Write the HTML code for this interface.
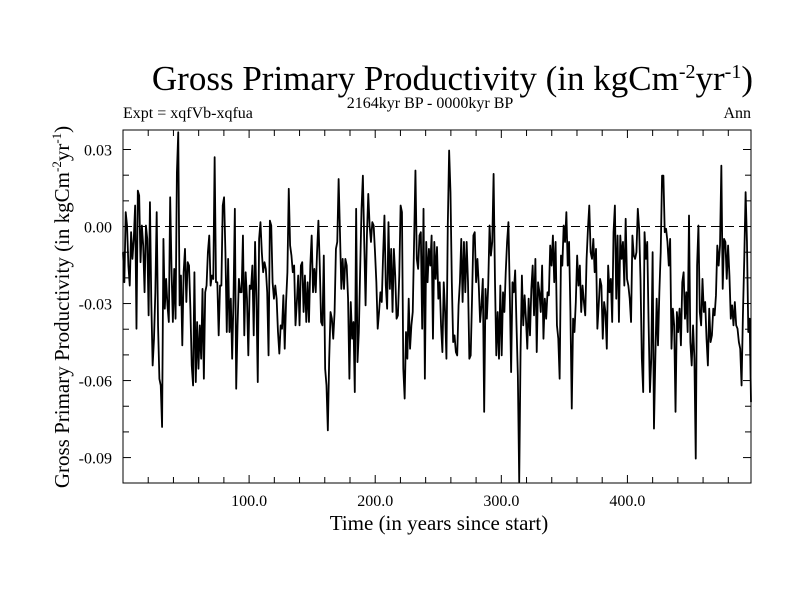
<!DOCTYPE html>
<html><head><meta charset="utf-8"><style>
html,body{margin:0;padding:0;background:#fff}
svg{display:block}
text{font-family:"Liberation Serif",serif;fill:#000}
</style></head><body>
<svg id="chart" width="800" height="600">
<text x="753" y="90" font-size="35" text-anchor="end">Gross Primary Productivity (in kgCm<tspan dy="-12" font-size="20">-2</tspan><tspan dy="12">yr</tspan><tspan dy="-12" font-size="20">-1</tspan><tspan dy="12">)</tspan></text>
<text x="430" y="108" font-size="16" text-anchor="middle">2164kyr BP - 0000kyr BP</text>
<text x="123" y="118" font-size="16">Expt = xqfVb-xqfua</text>
<text x="751" y="118" font-size="16" text-anchor="end">Ann</text>
<text transform="translate(69,307) rotate(-90)" font-size="21" text-anchor="middle">Gross Primary Productivity (in kgCm<tspan dy="-8" font-size="13">-2</tspan><tspan dy="8">yr</tspan><tspan dy="-8" font-size="13">-1</tspan><tspan dy="8">)</tspan></text>
<text x="439" y="530" font-size="21" text-anchor="middle">Time (in years since start)</text>
<g id="plot"></g>
</svg>
<script>
const yTicks = [0.03, 0.00, -0.03, -0.06, -0.09];
const yTickLabels = ["0.03", "0.00", "-0.03", "-0.06", "-0.09"];
const xTicks = [100, 200, 300, 400];
const xTickLabels = ["100.0", "200.0", "300.0", "400.0"];
const xDomain = [0, 498];
const yDomain = [-0.0999, 0.0376];
const gpp = [-0.0100,-0.0217,0.0056,0.0004,-0.0152,-0.0230,-0.0022,-0.0126,-0.0048,0.0082,-0.0398,0.0140,0.0121,-0.0139,0.0004,-0.0074,-0.0256,0.0004,-0.0048,-0.0346,0.0095,-0.0294,-0.0541,-0.0437,-0.0256,0.0056,-0.0385,-0.0593,-0.0619,-0.0781,-0.0048,-0.0320,-0.0204,-0.0307,-0.0372,0.0114,-0.0165,-0.0372,-0.0165,-0.0359,0.0211,0.0367,-0.0307,-0.0191,-0.0463,-0.0178,-0.0087,-0.0294,-0.0139,-0.0152,-0.0320,-0.0541,-0.0619,-0.0178,-0.0606,-0.0372,-0.0554,-0.0385,-0.0515,-0.0243,-0.0593,-0.0256,-0.0230,-0.0100,-0.0035,-0.0230,-0.0191,-0.0204,0.0270,-0.0217,-0.0217,-0.0424,-0.0230,-0.0230,0.0082,0.0114,-0.0100,-0.0411,-0.0126,-0.0411,-0.0281,-0.0515,-0.0281,0.0069,-0.0632,-0.0385,-0.0204,-0.0256,-0.0256,-0.0035,-0.0424,-0.0178,-0.0281,-0.0502,-0.0230,-0.0243,-0.0152,-0.0424,-0.0060,-0.0281,-0.0606,-0.0048,0.0017,-0.0100,-0.0178,-0.0139,-0.0165,-0.0256,-0.0502,0.0023,0.0004,
-0.0217,-0.0281,-0.0230,-0.0281,-0.0411,-0.0495,-0.0385,-0.0398,-0.0268,-0.0476,-0.0294,-0.0178,0.0147,-0.0074,-0.0113,-0.0178,-0.0152,-0.0385,-0.0294,-0.0191,-0.0385,-0.0152,-0.0139,-0.0333,-0.0191,-0.0372,-0.0217,-0.0372,-0.0152,-0.0035,-0.0256,-0.0165,-0.0256,-0.0100,0.0023,-0.0152,-0.0372,-0.0385,-0.0113,-0.0554,-0.0619,-0.0794,-0.0515,-0.0333,-0.0359,-0.0437,-0.0333,-0.0087,-0.0060,0.0185,-0.0022,-0.0243,-0.0126,-0.0243,-0.0126,-0.0152,-0.0281,-0.0593,-0.0294,-0.0437,-0.0372,-0.0645,0.0069,-0.0528,-0.0411,-0.0165,0.0069,0.0198,-0.0060,-0.0307,-0.0035,0.0127,0.0004,-0.0060,0.0017,0.0004,-0.0100,-0.0217,-0.0398,-0.0333,-0.0256,-0.0294,-0.0113,0.0043,-0.0230,-0.0320,0.0017,-0.0243,-0.0087,-0.0333,-0.0087,-0.0191,-0.0359,-0.0346,-0.0191,0.0082,0.0056,-0.0554,-0.0670,-0.0411,-0.0515,-0.0281,-0.0476,-0.0385,-0.0333,-0.0060,0.0218,-0.0126,-0.0165,-0.0035,-0.0022,-0.0398,0.0069,-0.0593,-0.0060,-0.0217,-0.0087,-0.0152,-0.0035,-0.0437,-0.0060,
-0.0204,-0.0080,-0.0281,-0.0217,-0.0385,-0.0489,-0.0217,-0.0333,-0.0515,0.0004,0.0296,0.0134,-0.0217,-0.0450,-0.0424,-0.0489,-0.0502,-0.0307,-0.0217,-0.0048,-0.0294,-0.0060,-0.0256,-0.0060,-0.0217,-0.0515,-0.0502,-0.0281,-0.0035,-0.0022,-0.0217,-0.0126,-0.0230,-0.0372,-0.0307,-0.0204,-0.0722,-0.0243,-0.0359,-0.0230,0.0004,-0.0113,-0.0060,0.0205,-0.0204,-0.0502,-0.0333,-0.0515,-0.0230,-0.0502,-0.0256,-0.0333,-0.0178,-0.0060,0.0017,-0.0256,-0.0567,-0.0217,-0.0256,-0.0171,-0.0385,-0.0580,-0.0995,-0.0489,-0.0191,-0.0385,-0.0268,-0.0359,-0.0476,-0.0281,-0.0424,-0.0243,-0.0152,-0.0346,-0.0126,-0.0489,-0.0217,-0.0256,-0.0333,-0.0152,-0.0437,-0.0281,-0.0359,-0.0256,-0.0268,-0.0074,-0.0152,-0.0035,-0.0217,-0.0060,-0.0385,-0.0437,-0.0593,-0.0113,-0.0152,0.0004,-0.0060,0.0056,-0.0152,-0.0060,-0.0333,-0.0709,-0.0359,-0.0411,-0.0294,-0.0113,-0.0230,-0.0152,-0.0333,-0.0230,-0.0294,-0.0346,-0.0126,-0.0009,0.0082,-0.0100,-0.0126,-0.0048,-0.0178,-0.0087,-0.0398,
-0.0307,-0.0204,-0.0230,-0.0437,-0.0294,-0.0333,-0.0476,-0.0152,-0.0256,-0.0204,-0.0372,-0.0022,0.0082,-0.0281,-0.0035,-0.0372,-0.0035,-0.0126,-0.0060,-0.0230,0.0030,-0.0204,-0.0230,-0.0281,-0.0372,-0.0035,-0.0113,-0.0126,-0.0100,0.0069,-0.0009,-0.0204,-0.0515,-0.0645,-0.0022,-0.0126,-0.0060,-0.0372,-0.0645,-0.0515,-0.0100,-0.0787,-0.0515,-0.0281,-0.0463,-0.0256,-0.0100,0.0198,0.0198,-0.0022,-0.0009,-0.0060,-0.0152,-0.0048,-0.0476,-0.0320,-0.0385,-0.0722,-0.0333,-0.0411,-0.0320,-0.0463,-0.0217,-0.0178,-0.0359,-0.0256,-0.0411,0.0043,-0.0450,-0.0541,-0.0385,-0.0515,-0.0904,-0.0152,0.0004,-0.0333,-0.0385,-0.0204,-0.0333,-0.0294,-0.0437,-0.0541,-0.0320,-0.0450,-0.0424,-0.0320,-0.0346,-0.0268,-0.0074,-0.0152,-0.0074,0.0237,-0.0243,-0.0048,-0.0060,-0.0204,-0.0074,-0.0191,-0.0359,-0.0307,-0.0385,-0.0294,-0.0385,-0.0398,-0.0450,-0.0476,-0.0619,-0.0346,-0.0126,0.0134,-0.0060,-0.0411,-0.0359,-0.0684];

const L = 123, R = 751, T = 130, B = 483;
const NS = 'http://www.w3.org/2000/svg';
const g = document.getElementById('plot');
function xs(v){ return L + (v - xDomain[0]) / (xDomain[1] - xDomain[0]) * (R - L); }
function ys(v){ return B - (v - yDomain[0]) / (yDomain[1] - yDomain[0]) * (B - T); }
function mk(tag, attrs){ const e = document.createElementNS(NS, tag); for (const k in attrs) e.setAttribute(k, attrs[k]); g.appendChild(e); return e; }

const z = mk('line', {x1:L, x2:R, y1:ys(0), y2:ys(0), stroke:'#000', 'stroke-width':1, 'stroke-dasharray':'9,5'});



const n = gpp.length;
let d = '';
gpp.forEach((v, i) => {
  const yr = xDomain[0] + i * (xDomain[1] - xDomain[0]) / (n - 1);
  d += (i ? 'L' : 'M') + xs(yr).toFixed(2) + ',' + ys(v).toFixed(2);
});
const line = mk('path', {d:d, fill:'none', stroke:'#000', 'stroke-width':1.8, 'stroke-linejoin':'round'});



const fr = mk('rect', {x:L, y:T, width:R-L, height:B-T, fill:'none', stroke:'#000', 'stroke-width':1});



for (let t = 20; t < xDomain[1]; t += 20) {
  const len = (t % 100 === 0) ? 8 : 6;
  const a = mk('line', {x1:xs(t), x2:xs(t), y1:B, y2:B-len, stroke:'#000', 'stroke-width':1});
  
  
  const b = mk('line', {x1:xs(t), x2:xs(t), y1:T, y2:T+len, stroke:'#000', 'stroke-width':1});
  
  
}
xTicks.forEach((t, i) => {
  const e = mk('text', {x:xs(t), y:506, 'font-size':16, 'text-anchor':'middle'});
  e.textContent = xTickLabels[i];
  
  
});
for (let k = -9; k <= 3; k++) {
  const v = k / 100;
  const len = (k % 3 === 0) ? 8 : 6;
  const a = mk('line', {x1:L, x2:L+len, y1:ys(v), y2:ys(v), stroke:'#000', 'stroke-width':1});
  
  
  const b = mk('line', {x1:R, x2:R-len, y1:ys(v), y2:ys(v), stroke:'#000', 'stroke-width':1});
  
  
}
yTicks.forEach((v, i) => {
  const e = mk('text', {x:112, y:ys(v)+6, 'font-size':16, 'text-anchor':'end'});
  e.textContent = yTickLabels[i];
  
  
});
</script>
</body></html>
